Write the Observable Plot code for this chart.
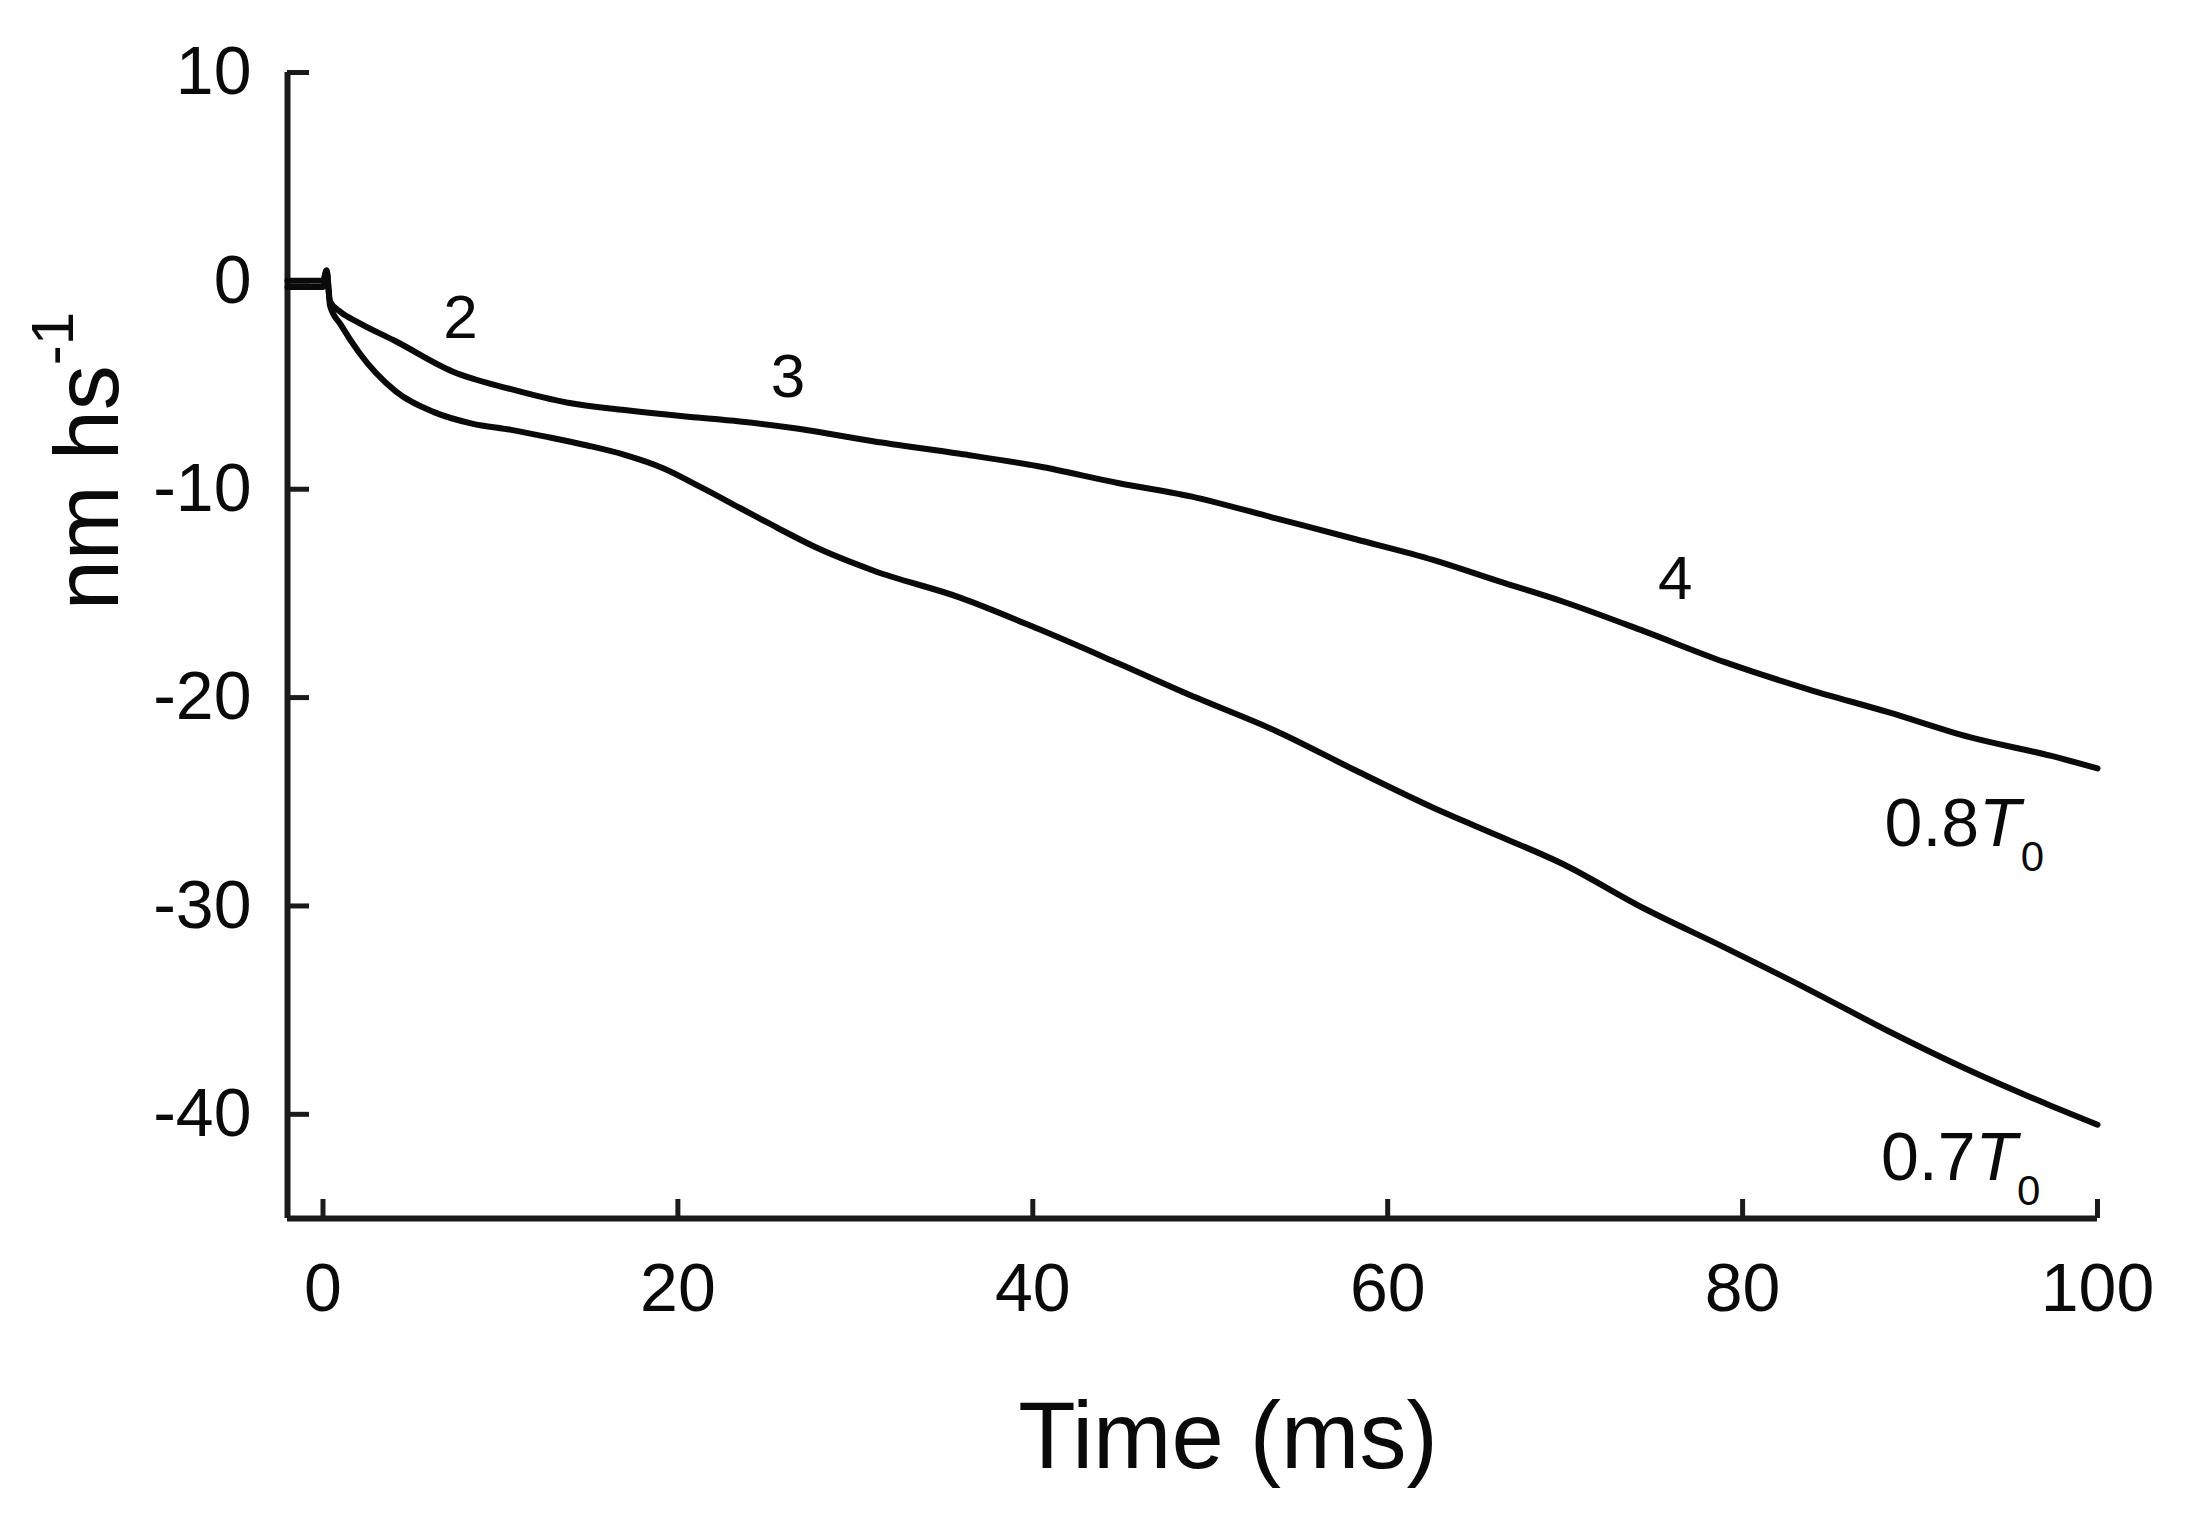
<!DOCTYPE html>
<html>
<head>
<meta charset="utf-8">
<script src="https://cdn.jsdelivr.net/npm/d3@7"></script>
<script src="https://cdn.jsdelivr.net/npm/@observablehq/plot@0.6"></script>
<style>
  html, body { margin: 0; padding: 0; background: #ffffff; }
  #chart { width: 2196px; height: 1516px; }
  #chart svg { display: block; }
</style>
</head>
<body>
<div id="chart"></div>
<script>
// ---- data ----
const upperTime  = [-2, 0, 0.2, 0.4, 1, 2, 4.1, 7.3, 10.6, 13.8, 17, 20.3, 23.5, 26.8, 31, 35.9, 40.3, 44.8, 49.2, 53.7, 58.2, 62.6, 66.2, 69.9, 74.4, 79, 83.7, 88.2, 92.8, 97.4, 100];
const upperValue = [0, 0, 0.5, -1.0, -1.5, -2.0, -2.9, -4.35, -5.2, -5.85, -6.2, -6.5, -6.75, -7.1, -7.7, -8.3, -8.9, -9.7, -10.4, -11.4, -12.4, -13.4, -14.4, -15.4, -16.8, -18.3, -19.6, -20.7, -21.9, -22.8, -23.4];

const lowerTime  = [-2, 0, 0.2, 0.4, 1, 2, 4.1, 6.25, 8.4, 10.6, 12.7, 14.9, 17, 19.2, 21.4, 23.5, 25.6, 27.8, 31, 35.9, 40.3, 44.8, 49.2, 53.7, 58.2, 62.6, 65.3, 69.9, 74.4, 79, 83.7, 88.2, 92.8, 97.4, 100];
const lowerValue = [-0.3, -0.3, 0.5, -1.2, -2.1, -3.4, -5.3, -6.3, -6.85, -7.15, -7.5, -7.9, -8.35, -9.0, -9.95, -10.9, -11.85, -12.8, -13.9, -15.2, -16.7, -18.35, -20.0, -21.6, -23.5, -25.3, -26.3, -28.0, -30.1, -32.0, -34.0, -36.0, -37.9, -39.6, -40.5];

const seriesNames = ["0.8T0", "0.7T0"];

const phaseLabels = ["2", "3", "4"];
const phaseTime   = [7.75, 26.2, 76.2];
const phaseValue  = [-1.8, -4.6, -14.3];

const seriesLabelTime  = [88.0, 87.8];
const seriesLabelValue = [-26.1, -42.1];

const xTicks = [0, 20, 40, 60, 80, 100];
const yTicks = [10, 0, -10, -20, -30, -40];
const xDomain = [-2, 100];
const yDomain = [-45, 10];
const xTitle = "Time (ms)";
const yTitleMain = "nm hs";
const yTitleSup = "-1";

// ---- tables built from the arrays ----
const rows = [
  ...upperTime.map((t, i) => ({t, v: upperValue[i], s: seriesNames[0]})),
  ...lowerTime.map((t, i) => ({t, v: lowerValue[i], s: seriesNames[1]}))
];
const phaseRows = phaseLabels.map((l, i) => ({l, t: phaseTime[i], v: phaseValue[i]}));
const seriesLabelRows = seriesNames.map((l, i) => ({l, t: seriesLabelTime[i], v: seriesLabelValue[i]}));

const ink = "#0a0a0a";
const axisInk = "#1a1a1a";
const fmt = d => String(d);

const svg = Plot.plot({
  width: 2196,
  height: 1516,
  marginLeft: 287,
  marginRight: 99,
  marginTop: 72,
  marginBottom: 298,
  style: {fontFamily: "'Liberation Sans', Arial, Helvetica, sans-serif", background: "#ffffff", color: ink, overflow: "visible"},
  x: {domain: xDomain},
  y: {domain: yDomain},
  marks: [
    // inward ticks
    Plot.axisX({ticks: xTicks, tickSize: -19, fill: null, label: null, stroke: axisInk, strokeWidth: 5}),
    Plot.axisY({ticks: yTicks, tickSize: -22, fill: null, label: null, stroke: axisInk, strokeWidth: 5}),
    // axis lines (left and bottom only)
    Plot.ruleX([xDomain[0]], {stroke: axisInk, strokeWidth: 6}),
    Plot.ruleY([yDomain[0]], {stroke: axisInk, strokeWidth: 6}),
    // tick labels
    Plot.axisX({ticks: xTicks, tickSize: 0, tickPadding: 44, tickFormat: fmt, fontSize: 68, label: null}),
    Plot.axisY({ticks: yTicks, tickSize: 0, tickPadding: 36, tickFormat: fmt, fontSize: 68, label: null}),
    // curves
    Plot.line(rows, {x: "t", y: "v", z: "s", stroke: ink, strokeWidth: 6, curve: "monotone-x"}),
    // annotations
    Plot.text(phaseRows, {x: "t", y: "v", text: "l", fontSize: 62, fill: ink}),
    Plot.text(seriesLabelRows, {x: "t", y: "v", text: "l", fontSize: 68, fill: ink, textAnchor: "start"})
  ]
});

// rich text: italic T with subscript 0
d3.select(svg).selectAll("text").each(function () {
  const s = this.textContent;
  if (seriesNames.includes(s)) {
    const sel = d3.select(this);
    sel.text(null);
    sel.append("tspan").text(s.slice(0, 3));
    sel.append("tspan").attr("font-style", "italic").text("T");
    sel.append("tspan").attr("font-size", 42).attr("dy", 25).text(s.slice(4));
  }
});

// axis titles
const root = d3.select(svg);
root.append("text")
  .attr("x", 1228).attr("y", 1468)
  .attr("text-anchor", "middle")
  .attr("font-size", 94)
  .attr("fill", ink)
  .text(xTitle);

const yt = root.append("text")
  .attr("transform", "translate(118,461) rotate(-90)")
  .attr("text-anchor", "middle")
  .attr("font-size", 90)
  .attr("fill", ink);
yt.append("tspan").text(yTitleMain);
yt.append("tspan").attr("font-size", 60).attr("dy", -45).text(yTitleSup);

document.getElementById("chart").appendChild(svg);
</script>
</body>
</html>
